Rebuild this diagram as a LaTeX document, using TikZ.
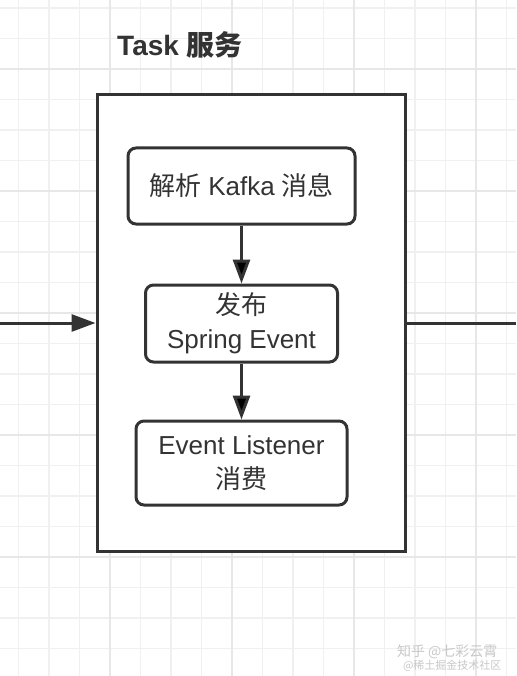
\documentclass[tikz,border=0pt]{standalone}
\usepackage{fontspec}
\usepackage{xcolor}
\usepackage{tikz}
\setmainfont{Liberation Sans}
\newfontfamily\cjk{Noto Sans CJK SC}
\usetikzlibrary{positioning, arrows.meta}

\definecolor{ink}{HTML}{333333}
\definecolor{gridminor}{HTML}{F0F0F0}
\definecolor{gridmajor}{HTML}{E7E7E7}
\definecolor{mark}{HTML}{C8C8C8}

\begin{document}
\begin{tikzpicture}[
        x=1pt, y=-1pt,
        node distance=137.5pt,
        on grid,
        box/.style={draw=ink, line width=3pt, rounded corners=8pt, fill=white,
            align=center, text=ink, inner sep=0pt,
            font=\fontsize{26}{34}\selectfont},
        flow/.style={-{Triangle[length=24pt,width=17pt]}, draw=ink, line width=3pt}
    ]
        \useasboundingbox (0,0) rectangle (516,676);
        \fill[white] (0,0) rectangle (516,676);

        % background grid
        \foreach \gx in {18.5,49,...,516}
            \draw[gridminor, line width=1.6pt] (\gx,0) -- (\gx,676);
        \foreach \gy in {8,38.5,...,676}
            \draw[gridminor, line width=1.6pt] (0,\gy) -- (516,\gy);
        \foreach \gx in {110,232,354,476}
            \draw[gridmajor, line width=1.6pt] (\gx,0) -- (\gx,676);
        \foreach \gy in {69,191,313,435,557}
            \draw[gridmajor, line width=1.6pt] (0,\gy) -- (516,\gy);

        \node[text=ink, font=\fontsize{28}{32}\selectfont\bfseries] (title) at (180,45) {Task {\cjk 服务}};

        \node[draw=ink, line width=3pt, fill=white, inner sep=0pt,
            minimum width=308pt, minimum height=456pt] (task) at (251,323) {};

        \node[box, minimum width=227pt, minimum height=76pt] (parse) at (241.5,186) {{\cjk 解析} Kafka {\cjk 消息}};
        \node[box, minimum width=192pt, minimum height=77pt] (publish) [below=of parse] {{\cjk 发布}\\Spring Event};
        \node[box, minimum width=211pt, minimum height=84pt] (listen) [below=139.5pt of publish] {Event Listener\\{\cjk 消费}};

        \path[flow]
        (parse) edge (publish)
        (publish) edge (listen);

        \coordinate (in) at (0,323);
        \coordinate (out) at (516,323);
        \draw[flow] (in) -- (task.west);
        \draw[ink, line width=3pt] (task.east) -- (out);

        % watermark
        \node[text=mark, font=\cjk\fontsize{14}{16}\selectfont, anchor=east] (mark1) at (501,652) {知乎 @七彩云霄};
        \node[text=mark, font=\cjk\fontsize{11}{13}\selectfont, anchor=east] (mark2) at (505,666) {@稀土掘金技术社区};
    \end{tikzpicture}
\end{document}
